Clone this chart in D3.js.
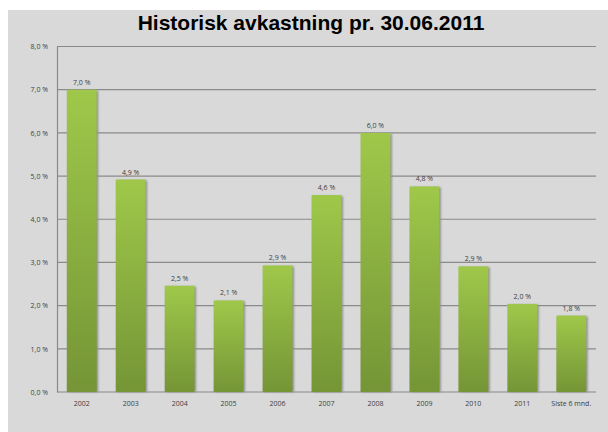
<!DOCTYPE html>
<html>
<head>
<meta charset="utf-8">
<script src="https://cdn.jsdelivr.net/npm/d3@7"></script>
<style>
  html, body { margin: 0; padding: 0; background: #fff; }
  svg { display: block; }
  .tick text { font-family: "Open Sans", "Liberation Sans", sans-serif; font-size: 7px; fill: #404040; }
</style>
</head>
<body>
<div id="chart"></div>
<script>
// values
const categories = ['2002', '2003', '2004', '2005', '2006', '2007', '2008', '2009', '2010', '2011', 'Siste 6 mnd.'];
const returns = [7.0, 4.92, 2.46, 2.12, 2.93, 4.56, 6.0, 4.76, 2.91, 2.04, 1.77];
const yTicks = [0, 1, 2, 3, 4, 5, 6, 7, 8];
const title = 'Historisk avkastning pr. 30.06.2011';

const width = 608;
const height = 432;
const margin = { top: 46.5, right: 12, bottom: 40, left: 57 };

const fmt = (v) => d3.format('.1f')(v).replace('.', ',') + ' %';

const svg = d3.select('#chart')
  .append('svg')
  .attr('width', width)
  .attr('height', height);

// gray chart area
svg.append('rect')
  .attr('x', 8)
  .attr('y', 10)
  .attr('width', width - 8)
  .attr('height', height - 10)
  .attr('fill', '#d9d9d9');

const defs = svg.append('defs');
const grad = defs.append('linearGradient')
  .attr('id', 'barFill')
  .attr('x1', 0).attr('y1', 0).attr('x2', 0).attr('y2', 1);
grad.append('stop').attr('offset', '0%').attr('stop-color', '#9fc84a');
grad.append('stop').attr('offset', '100%').attr('stop-color', '#759536');

const blur = defs.append('filter').attr('id', 'shadow');
blur.append('feGaussianBlur').attr('stdDeviation', 0.8);

const x = d3.scaleBand()
  .domain(categories)
  .range([margin.left, width - margin.right])
  .paddingInner(0.39)
  .paddingOuter(0.2);

const y = d3.scaleLinear()
  .domain([0, 8])
  .range([height - margin.bottom, margin.top]);

// gridlines
svg.append('g')
  .selectAll('line')
  .data(yTicks)
  .join('line')
  .attr('x1', margin.left)
  .attr('x2', width - margin.right)
  .attr('y1', (d) => y(d))
  .attr('y2', (d) => y(d))
  .attr('stroke', '#8a8a8a')
  .attr('stroke-width', 1.2);

// y axis
const yAxis = svg.append('g')
  .attr('transform', `translate(${margin.left},0)`)
  .call(d3.axisLeft(y).tickValues(yTicks).tickSize(0).tickPadding(9).tickFormat(fmt));
yAxis.select('.domain').attr('stroke', '#8a8a8a').attr('stroke-width', 1.2);

// x axis labels
const xAxis = svg.append('g')
  .attr('transform', `translate(0,${y(0)})`)
  .call(d3.axisBottom(x).tickSize(0).tickPadding(9));
xAxis.select('.domain').remove();

const bars = svg.append('g');

// soft shadow on the right of each bar
bars.selectAll('rect.shadow')
  .data(returns)
  .join('rect')
  .attr('class', 'shadow')
  .attr('x', (d, i) => x(categories[i]) + 1.5)
  .attr('y', (d) => y(d) + 1)
  .attr('width', x.bandwidth())
  .attr('height', (d) => y(0) - y(d) - 1)
  .attr('fill', '#8f8f8f')
  .attr('filter', 'url(#shadow)');

bars.selectAll('rect.bar')
  .data(returns)
  .join('rect')
  .attr('class', 'bar')
  .attr('x', (d, i) => x(categories[i]))
  .attr('y', (d) => y(d))
  .attr('width', x.bandwidth())
  .attr('height', (d) => y(0) - y(d))
  .attr('fill', 'url(#barFill)');

// value labels
svg.append('g')
  .selectAll('text')
  .data(returns)
  .join('text')
  .attr('x', (d, i) => x(categories[i]) + x.bandwidth() / 2)
  .attr('y', (d) => y(d) - 5)
  .attr('text-anchor', 'middle')
  .attr('font-family', '"Open Sans", "Liberation Sans", sans-serif')
  .attr('font-size', 7)
  .attr('fill', '#404040')
  .text((d) => fmt(d));

svg.append('text')
  .attr('x', 311)
  .attr('y', 30)
  .attr('text-anchor', 'middle')
  .attr('font-family', '"Liberation Sans", Arial, sans-serif')
  .attr('font-weight', 'bold')
  .attr('font-size', 21)
  .attr('fill', '#000')
  .text(title);
</script>
</body>
</html>
